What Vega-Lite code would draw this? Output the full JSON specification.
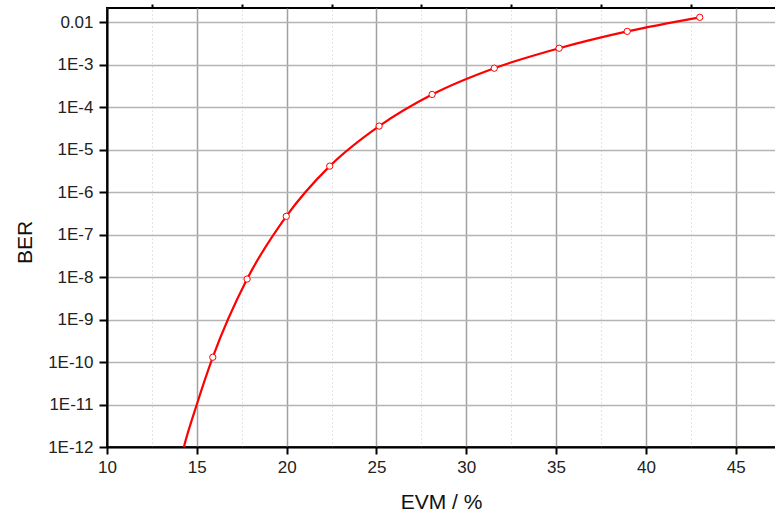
{
  "$schema": "https://vega.github.io/schema/vega-lite/v6.json",
  "width": 670,
  "height": 439,
  "autosize": {"type": "none"},
  "padding": {"left": 107, "top": 8, "right": 0, "bottom": 66},
  "background": "white",
  "config": {
    "font": "Liberation Sans",
    "view": {"stroke": "black", "strokeWidth": 2}
  },
  "data": {
    "values": [
      {"evm": 13.9, "ber": 2e-13, "pt": false},
      {"evm": 14.28, "ber": 1e-12, "pt": false},
      {"evm": 15.0, "ber": 1e-11, "pt": false},
      {"evm": 15.89, "ber": 1.3e-10, "pt": true},
      {"evm": 17.8, "ber": 9.0e-9, "pt": true},
      {"evm": 19.98, "ber": 2.7e-7, "pt": true},
      {"evm": 22.4, "ber": 4.1e-6, "pt": true},
      {"evm": 25.15, "ber": 3.6e-5, "pt": true},
      {"evm": 28.1, "ber": 2.0e-4, "pt": true},
      {"evm": 31.56, "ber": 8.3e-4, "pt": true},
      {"evm": 35.17, "ber": 2.45e-3, "pt": true},
      {"evm": 38.96, "ber": 6.1e-3, "pt": true},
      {"evm": 43.0, "ber": 1.31e-2, "pt": true}
    ]
  },
  "resolve": {"axis": {"x": "independent"}},
  "layer": [
    {
      "mark": {"type": "line", "color": "#ff0000", "strokeWidth": 2.2, "interpolate": "monotone", "clip": true},
      "encoding": {
        "x": {
          "field": "evm", "type": "quantitative",
          "scale": {"domain": [10, 47.3], "nice": false, "zero": false},
          "axis": {
            "values": [10, 15, 20, 25, 30, 35, 40, 45],
            "title": "EVM / %",
            "titleFontSize": 21, "titleFontWeight": "normal", "titleColor": "#111",
            "titleX": 334, "titleY": 55, "titleBaseline": "middle", "titleAnchor": null,
            "labelFontSize": 17, "labelColor": "#222", "labelPadding": 5, "labelFlush": false,
            "domainColor": "black", "domainWidth": 2,
            "tickColor": "black", "tickWidth": 2, "tickSize": 7,
            "grid": true, "gridColor": "#a0a0a0", "gridWidth": 1.5
          }
        },
        "y": {
          "field": "ber", "type": "quantitative",
          "scale": {"type": "log", "domain": [1e-12, 0.0217], "nice": false},
          "axis": {
            "values": [1e-12, 1e-11, 1e-10, 1e-9, 1e-8, 1e-7, 1e-6, 1e-5, 1e-4, 1e-3, 1e-2],
            "labelExpr": "datum.value > 0.005 ? '0.01' : '1E' + round(log(datum.value) / LN10)",
            "title": "BER",
            "titleFontSize": 21, "titleFontWeight": "normal", "titleColor": "#111",
            "titleX": -82, "titleY": 234, "titleAngle": -90, "titleAlign": "center", "titleBaseline": "middle", "titleAnchor": null,
            "labelFontSize": 17, "labelColor": "#222", "labelPadding": 6,
            "domainColor": "black", "domainWidth": 2,
            "tickColor": "black", "tickWidth": 2, "tickSize": 8,
            "grid": true, "gridColor": "#b4b4b4", "gridWidth": 1.5
          }
        }
      }
    },
    {
      "transform": [{"filter": "datum.pt"}],
      "mark": {"type": "point", "shape": "circle", "filled": true, "fill": "white", "stroke": "#ff0000", "strokeWidth": 1, "size": 40, "opacity": 1},
      "encoding": {
        "x": {
          "field": "evm", "type": "quantitative",
          "axis": {
            "values": [12.5, 17.5, 22.5, 27.5, 32.5, 37.5, 42.5],
            "labels": false, "title": null, "domain": false,
            "tickColor": "black", "tickWidth": 2, "tickSize": 4,
            "grid": true, "gridColor": "#c8c8c8", "gridDash": [1, 3], "gridWidth": 1
          }
        },
        "y": {"field": "ber", "type": "quantitative"}
      }
    }
  ]
}
